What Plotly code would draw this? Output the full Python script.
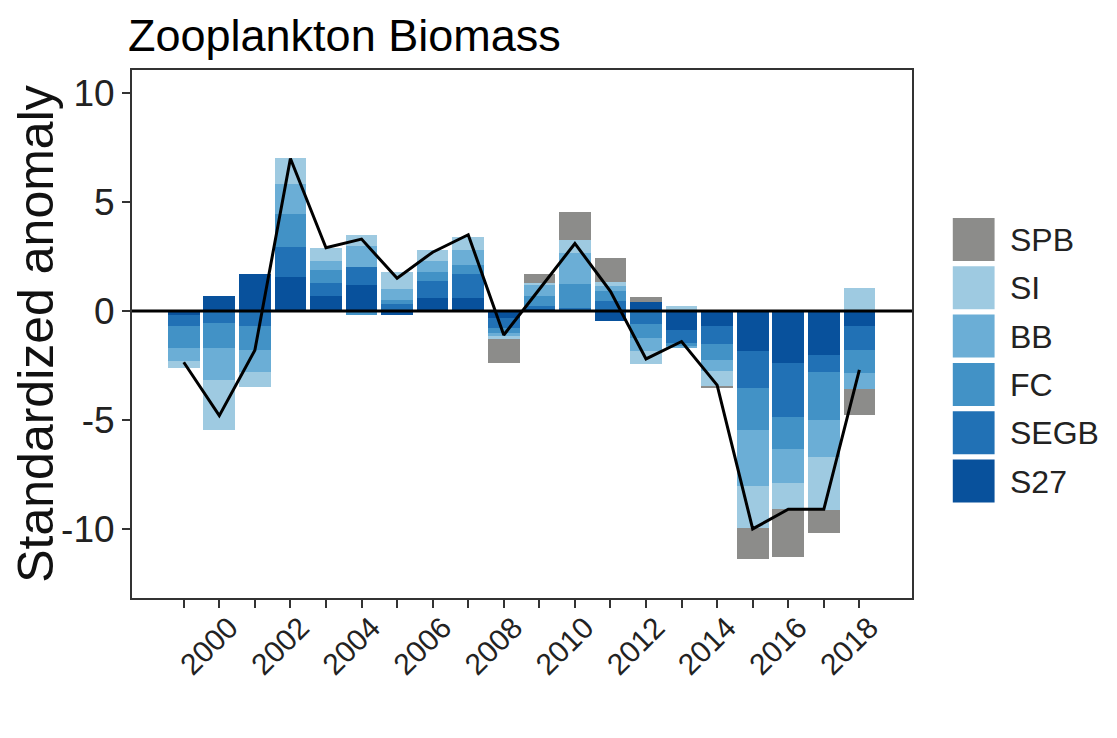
import plotly.graph_objects as go

# ---- data ----
years = list(range(1999, 2019))
S27 = [-0.2, 0.7, 1.7, 1.55, 0.7, 1.2, -0.2, 0.6, 0.6, -0.3, 0.1, 0.05, -0.45, 0.4, -0.85, -0.7, -1.85, -2.4, -2.0, -0.7]
SEGB = [-0.5, -0.55, -0.7, 1.4, 0.6, 0.8, 0.3, 0.8, 1.1, -0.5, 0.15, 0.1, 0.45, -0.6, -0.6, -0.8, -1.7, -2.45, -0.8, -1.1]
FC = [-1.0, -1.15, -1.1, 1.5, 0.6, -0.2, 0.2, 0.4, 0.4, -0.2, 0.45, 1.1, 0.45, -0.65, -0.2, -0.75, -1.9, -1.5, -2.2, -1.05]
BB = [-0.6, -1.45, -1.0, 1.4, 0.4, 1.0, 0.5, 0.5, 0.7, -0.15, 0.5, 1.4, 0.25, -0.6, -0.05, -0.5, -2.6, -1.55, -1.7, -0.75]
SI = [-0.3, -2.3, -0.7, 1.15, 0.6, 0.5, 0.8, 0.5, 0.6, -0.15, 0.1, 0.6, 0.2, -0.6, 0.25, -0.7, -1.9, -1.2, -2.45, 1.05]
SPB = [0, 0, 0, 0, 0, 0, 0, 0, 0, -1.1, 0.4, 1.3, 1.1, 0.25, 0, -0.1, -1.45, -2.2, -1.05, -1.15]
total = [-2.35, -4.8, -1.8, 7.0, 2.9, 3.3, 1.5, 2.7, 3.5, -1.1, 1.0, 3.1, 0.9, -2.2, -1.4, -3.4, -10.0, -9.1, -9.1, -2.7]
tick_years = years
tick_text = [str(y) if y % 2 == 0 else "" for y in years]
y_ticks = [-10, -5, 0, 5, 10]
y_tick_text = ["-10", "-5", "0", "5", "10"]

# stacking order: first trace is closest to zero
series = [("S27", S27), ("SEGB", SEGB), ("FC", FC), ("BB", BB), ("SI", SI), ("SPB", SPB)]
colors = {"SPB": "#8c8c8a", "SI": "#9ecae1", "BB": "#6baed6",
          "FC": "#4292c6", "SEGB": "#2171b5", "S27": "#08519c"}
legend_order = ["SPB", "SI", "BB", "FC", "SEGB", "S27"]

FONT = "Liberation Sans, Arial, sans-serif"
OFF = 8  # page body margin of the browser
W, H = 1117 - OFF, 738 - OFF
L, R, T, B = 128 - OFF, 912 - OFF, 70 - OFF, 598 - OFF  # plot area pixel box

fig = go.Figure()
for name, vals in series:
    fig.add_trace(go.Bar(x=years, y=vals, name=name, width=0.89,
                         marker=dict(color=colors[name], line=dict(width=0)),
                         showlegend=False))

fig.add_trace(go.Scatter(x=years, y=total, mode="lines", name="Total",
                         line=dict(color="black", width=3), showlegend=False))

# zero line
fig.add_shape(type="line", xref="paper", x0=0, x1=1, yref="y", y0=0, y1=0,
              line=dict(color="black", width=3.2), layer="above")


def px_x(p):
    return (p - OFF - L) / (R - L)


def px_y(p):
    return (B - (p - OFF)) / (B - T)


# custom legend (large keys like ggplot)
for i, name in enumerate(legend_order):
    top = 218 + i * 48.3
    fig.add_shape(type="rect", xref="paper", yref="paper",
                  x0=px_x(953), x1=px_x(995), y0=px_y(top + 43), y1=px_y(top),
                  fillcolor=colors[name], line=dict(width=0), layer="above")
    fig.add_annotation(xref="paper", yref="paper", x=px_x(1008), y=px_y(top + 22),
                       text=name, showarrow=False, xanchor="left", yanchor="middle",
                       font=dict(family=FONT, size=32, color="#222"))

fig.update_layout(
    width=W, height=H,
    margin=dict(l=L, r=W - R, t=T, b=H - B, pad=0),
    paper_bgcolor="white", plot_bgcolor="white",
    barmode="relative", bargap=0,
    font=dict(family=FONT, color="#222"),
    title=dict(text="Zooplankton Biomass", x=L / W, xanchor="left", xref="container",
               y=1 - (35 - OFF) / H, yanchor="middle", yref="container",
               font=dict(family=FONT, size=45, color="black")),
    xaxis=dict(range=[1997.545, 2019.48], tickmode="array", tickvals=tick_years,
               ticktext=tick_text, tickangle=-45, ticks="outside", ticklen=8,
               tickwidth=1.5, tickcolor="#333", showgrid=False, zeroline=False,
               showline=True, linecolor="#333", linewidth=2, mirror=True,
               ticklabelshift=10, ticklabelstandoff=-10,
               tickfont=dict(family=FONT, size=30, color="#222")),
    yaxis=dict(range=[-13.17, 11.06], tickmode="array", tickvals=y_ticks,
               ticktext=y_tick_text,
               ticks="outside", ticklen=8, tickwidth=1.5, tickcolor="#333",
               showgrid=False, zeroline=False, showline=True, linecolor="#333",
               linewidth=2, mirror=True,
               tickfont=dict(family=FONT, size=37, color="#222"),
               title=dict(text="Standardized anomaly", standoff=6,
                          font=dict(family=FONT, size=50, color="#111"))),
)

fig.write_html("out.html")
